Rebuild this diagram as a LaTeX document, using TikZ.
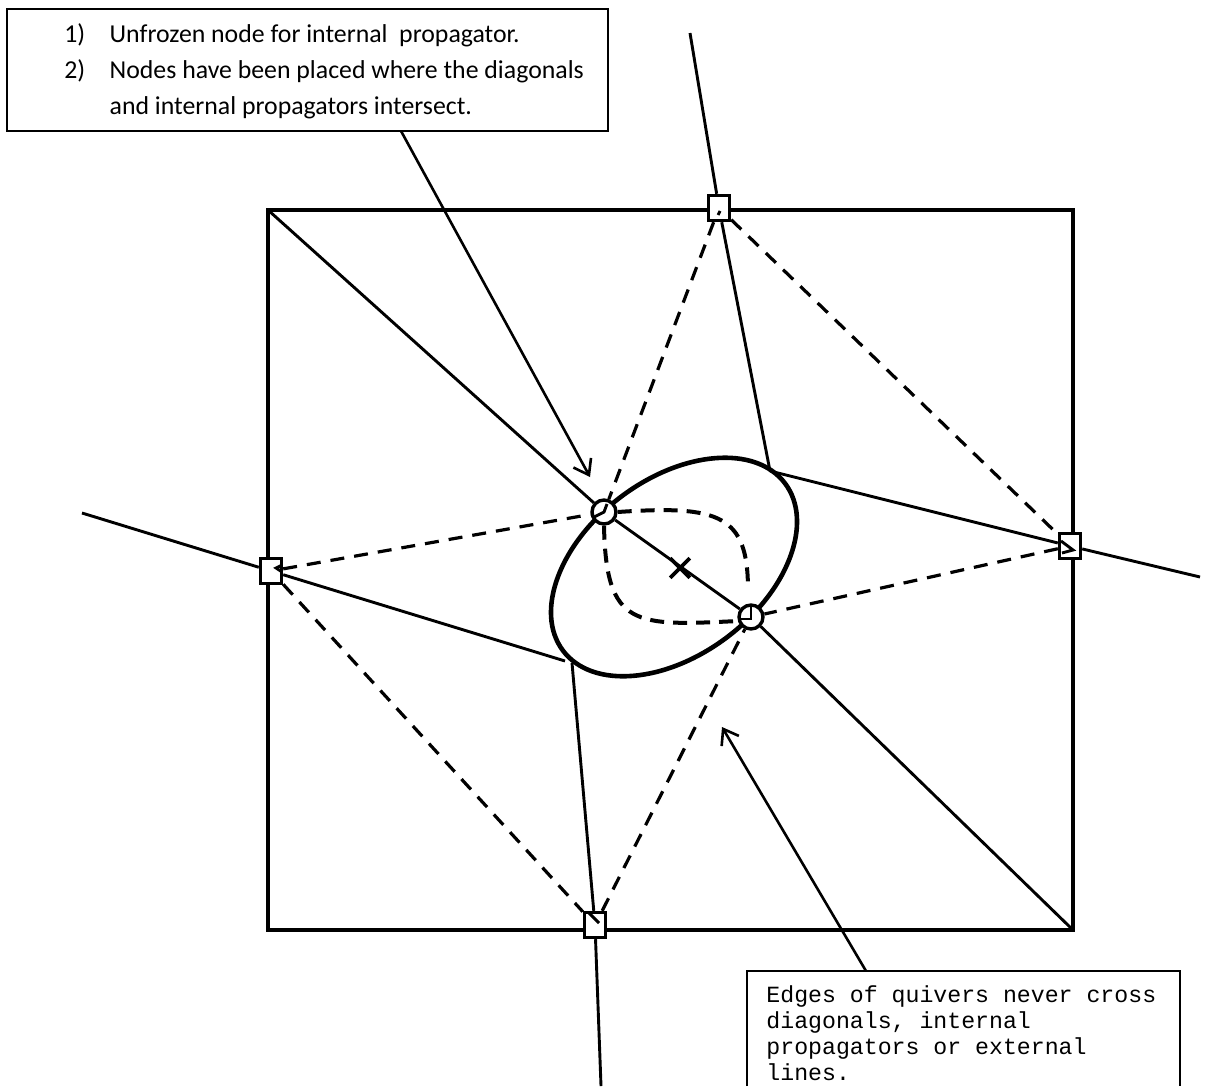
\documentclass[tikz,border=0pt]{standalone}
\usepackage{fontspec}
\setmainfont{Carlito}
\newfontfamily\codefont{Liberation Mono}
\usetikzlibrary{arrows.meta,fit,shapes.misc}
\begin{document}
\begin{tikzpicture}[x=0.5pt,y=-0.5pt,
  thinline/.style={line width=1.45pt},
  frameline/.style={line width=2.2pt, line join=miter},
  dashline/.style={line width=1.6pt, dash pattern=on 7pt off 5pt},
  loopdash/.style={line width=2pt, dash pattern=on 7pt off 4.5pt},
  sqnode/.style={draw, fill=white, line width=1.7pt, minimum width=10.5pt, minimum height=12.5pt, inner sep=0pt},
  cnode/.style={draw, circle, fill=white, line width=1.7pt, minimum size=12pt, inner sep=0pt},
  callout/.style={line width=1.3pt, -{Straight Barb[length=7pt,width=10pt]}},
  textbox/.style={draw, line width=0.8pt, inner sep=0pt},
]
\useasboundingbox (0,0) rectangle (1208,1086);

% outer frame
\coordinate (TL) at (268,210);
\coordinate (TR) at (1073,210);
\coordinate (BR) at (1073,930);
\coordinate (BL) at (268,930);
\draw[frameline] (TL) -- (TR) -- (BR) -- (BL) -- cycle;

% ellipse (internal propagator loop)
\draw[line width=2.3pt, rotate around={37:(674,567)}] (674,567) ellipse [x radius=139, y radius=88];

% free ends and points on the ellipse
\coordinate (pT) at (690,33);
\coordinate (pR) at (1200,577);
\coordinate (pL) at (82,513);
\coordinate (pB) at (601,1086);
\coordinate (e1) at (770,471);
\coordinate (e2) at (565,661);
\coordinate (e3) at (572,663);

% nodes
\node[sqnode] (sT) at (719,208) {};
\node[sqnode] (sL) at (271,571) {};
\node[sqnode] (sR) at (1070,546) {};
\node[sqnode] (sB) at (595,925) {};
\node[cnode] (A) at (604,512) {};
\node[cnode] (B) at (751,617) {};

% inner dashed loop
\draw[loopdash] (A.east) .. controls (720,505) and (748,515) .. (748,590);
\draw[loopdash] (A.south) .. controls (606,628) and (635,626) .. (738,621);

% diagonal through the unfrozen nodes
\draw[thinline] (TL) -- (A);
\draw[thinline] (A) -- (B);
\draw[thinline] (B) -- (BR);
\node[cross out, draw, line width=1.8pt, minimum size=8pt, inner sep=0pt] (X) at (680,568) {};

% internal propagators / external lines
\draw[thinline] (pT) -- (sT);
\draw[thinline] (sT) -- (e1);
\draw[thinline] (e1) -- (sR);
\draw[thinline] (sR) -- (pR);
\draw[thinline] (pL) -- (sL);
\draw[thinline] (sL) -- (e2);
\draw[thinline] (e3) -- (sB);
\draw[thinline] (sB) -- (pB);

% quiver edges (dashed)
\draw[dashline] (sT) -- (A);
\draw[dashline] (sT) -- (sR);
\draw[dashline] (sL) -- (A);
\draw[dashline] (sL) -- (sB);
\draw[dashline] (sR) -- (B);
\draw[dashline] (sB) -- (B);

% small marks inside the nodes
\draw[thinline] ([shift={(1,3)}]sT.center) -- ([shift={(-1,7)}]sT.center);
\draw[thinline] ([shift={(11,-6)}]sL.center) -- ([shift={(5,-3)}]sL.center) -- ([shift={(11,1)}]sL.center);
\draw[thinline] ([shift={(-9,-5)}]sR.center) -- ([shift={(3,4)}]sR.center) -- ([shift={(-8,7)}]sR.center);
\draw[thinline] ([shift={(-6,-12)}]sB.center) -- ([shift={(4,-2)}]sB.center);
\draw[thinline] ([shift={(-10,5)}]A.center) -- (A.center) -- ([shift={(3,-8)}]A.center);
\draw[thinline] ([shift={(-11,2)}]B.center) -- ([shift={(0,2)}]B.center) -- ([shift={(0,-11)}]B.center);

% text box 1
\node[textbox, fit={(7,9) (608,131)}] (note1) {};
\node[anchor=north west, inner sep=0pt, font=\fontsize{12.9pt}{18pt}\selectfont] (note1text) at (64,17)
  {\begin{tabular}{@{}l@{\hspace{12.2pt}}l@{}}
   1) & Unfrozen node for internal\ \ propagator.\\
   2) & Nodes have been placed where the diagonals\\
      & and internal propagators intersect.
   \end{tabular}};
\coordinate (a1s) at (401,131);
\coordinate (a1e) at (590,477);
\draw[callout] (a1s) -- (a1e);

% text box 2
\coordinate (n2a) at (747,1086);
\coordinate (n2b) at (747,971);
\coordinate (n2c) at (1180,971);
\coordinate (n2d) at (1180,1086);
\draw[line width=0.8pt] (n2a) -- (n2b) -- (n2c) -- (n2d);
\node[anchor=north west, inner sep=0pt, align=left, font=\codefont\fontsize{11.6pt}{13pt}\selectfont] (note2text) at (766,985)
  {Edges of quivers never cross\\diagonals, internal\\propagators or external\\lines.};
\coordinate (a2s) at (866,971);
\coordinate (a2e) at (722,727);
\draw[callout] (a2s) -- (a2e);
\end{tikzpicture}
\end{document}
